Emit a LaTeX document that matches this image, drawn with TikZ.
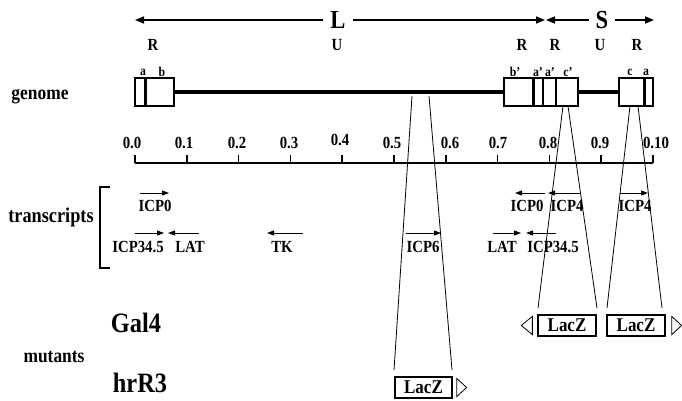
\documentclass[tikz,border=0pt]{standalone}
\usepackage{fontspec}
\setmainfont{Liberation Serif}[FakeStretch=0.87]
\usetikzlibrary{arrows.meta}
\newcommand\fsz[1]{\fontsize{#1}{#1}\selectfont\bfseries}
\begin{document}
\begin{tikzpicture}[x=1pt,y=-1pt,
  big/.style={font=\fsz{26}, inner sep=7pt},
  ru/.style={font=\fsz{17}, inner sep=0pt},
  small/.style={font=\fsz{13.5}, inner sep=0pt},
  num/.style={font=\fsz{17}, inner sep=0pt},
  tr/.style={font=\fsz{17}, inner sep=0pt},
  side/.style={font=\fsz{20}, inner sep=0pt},
  mut/.style={font=\fsz{28}, inner sep=0pt},
  toparrow/.style={line width=1.6pt, -{Triangle[length=9pt,width=7pt]}},
  tarrow/.style={line width=1pt, -{Triangle[length=7pt,width=5pt]}},
  gbox/.style={draw, line width=1.5pt, minimum height=28pt, inner sep=0pt},
  gline/.style={line width=3.5pt},
  bar/.style={line width=3pt},
  thin/.style={line width=1.2pt},
  funnel/.style={line width=0.8pt},
  lacz/.style={draw, line width=1.3pt, minimum width=58pt, minimum height=21pt, inner sep=0pt, font=\fsz{19.5}},
  tri/.style={draw, line width=0.8pt, line join=miter},
  axis/.style={line width=1.5pt},
  bracket/.style={line width=1.5pt}
]
\useasboundingbox (0,0) rectangle (682,401);

% --- top L / S arrows
\node[big] (L) at (338,20) {L};
\coordinate (Lleft) at (135,20);
\coordinate (Lright) at (545,20);
\draw[toparrow] (L) -- (Lleft);
\draw[toparrow] (L) -- (Lright);
\node[big] (S) at (602,20) {S};
\coordinate (Sleft) at (546,20);
\coordinate (Sright) at (654,20);
\draw[toparrow] (S) -- (Sleft);
\draw[toparrow] (S) -- (Sright);

\node[ru] (r1) at (153,45) {R};
\node[ru] (u1) at (337,45) {U};
\node[ru] (r2) at (522,45) {R};
\node[ru] (r3) at (555,45) {R};
\node[ru] (u2) at (600,45) {U};
\node[ru] (r4) at (637,45) {R};

% --- genome
\node[side] (genome) at (40,97) {genome};
\node[gbox, minimum width=39pt] (boxL) at (154.5,92) {};
\node[gbox, minimum width=74pt] (boxR) at (541,92) {};
\node[gbox, minimum width=34pt] (boxE) at (636,92) {};
\draw[gline] (boxL.east) -- (boxR.west);
\draw[gline] (boxR.east) -- (boxE.west);
\draw[bar] (145,78) -- (145,106);
\draw[bar] (533,78) -- (533,106);
\draw[thin] (543,78) -- (543,106);
\draw[thin] (556,78) -- (556,106);
\draw[bar] (644,78) -- (644,106);
\node[small] (la) at (143,72) {a};
\node[small] (lb) at (162,72) {b};
\node[small] (rb) at (515,72) {b'};
\node[small] (ra1) at (538,72) {a'};
\node[small] (ra2) at (550,72) {a'};
\node[small] (rc) at (568,72) {c'};
\node[small] (ec) at (630,72) {c};
\node[small] (ea) at (646,72) {a};

% --- scale
\coordinate (ax0) at (135,163);
\coordinate (ax1) at (653,163);
\draw[axis] (ax0) -- (ax1);
\foreach \i in {0,...,10}{
  \pgfmathsetmacro\xx{135+51.8*\i}
  \draw[axis] (\xx,155) -- (\xx,163);
}
\node[num] (s0) at (132,143) {0.0};
\node[num] (s1) at (184,143) {0.1};
\node[num] (s2) at (237,143) {0.2};
\node[num] (s3) at (289,143) {0.3};
\node[num] (s4) at (340,140) {0.4};
\node[num] (s5) at (392,143) {0.5};
\node[num] (s6) at (450,143) {0.6};
\node[num] (s7) at (498,143) {0.7};
\node[num] (s8) at (548,143) {0.8};
\node[num] (s9) at (600,143) {0.9};
\node[num] (s10) at (656,143) {0.10};

% --- transcripts
\node[side, font=\fsz{21}] (transcripts) at (51,217) {transcripts};
\coordinate (bt) at (110,187);
\coordinate (bb) at (110,268);
\draw[bracket] (bt) -- (100,187) -- (100,268) -- (bb);

\coordinate (a1s) at (140,193); \coordinate (a1e) at (169,193);
\draw[tarrow] (a1s) -- (a1e);
\node[tr] (t1) at (155,206) {ICP0};
\coordinate (a2s) at (135,233); \coordinate (a2e) at (164,233);
\draw[tarrow] (a2s) -- (a2e);
\node[tr] (t2) at (138,247) {ICP34.5};
\coordinate (a3s) at (199,233); \coordinate (a3e) at (168,233);
\draw[tarrow] (a3s) -- (a3e);
\node[tr] (t3) at (190,247) {LAT};
\coordinate (a4s) at (303,233); \coordinate (a4e) at (267,233);
\draw[tarrow] (a4s) -- (a4e);
\node[tr] (t4) at (282,247) {TK};
\coordinate (a5s) at (406,233); \coordinate (a5e) at (441,233);
\draw[tarrow] (a5s) -- (a5e);
\node[tr] (t5) at (423,247) {ICP6};
\coordinate (a6s) at (545,193); \coordinate (a6e) at (515,193);
\draw[tarrow] (a6s) -- (a6e);
\node[tr] (t6) at (527,206) {ICP0};
\coordinate (a7s) at (580,193); \coordinate (a7e) at (548,193);
\draw[tarrow] (a7s) -- (a7e);
\node[tr] (t7) at (567,206) {ICP4};
\coordinate (a8s) at (620,193); \coordinate (a8e) at (648,193);
\draw[tarrow] (a8s) -- (a8e);
\node[tr] (t8) at (635,206) {ICP4};
\coordinate (a9s) at (493,233); \coordinate (a9e) at (521,233);
\draw[tarrow] (a9s) -- (a9e);
\node[tr] (t9) at (502,247) {LAT};
\coordinate (a10s) at (556,233); \coordinate (a10e) at (526,233);
\draw[tarrow] (a10s) -- (a10e);
\node[tr] (t10) at (553,247) {ICP34.5};

% --- mutants
\node[mut] (gal4) at (136,323) {Gal4};
\node[side] (mutants) at (54,357) {mutants};
\node[mut] (hrr3) at (140,383) {hrR3};

\node[lacz] (g1) at (567,325.5) {LacZ};
\node[lacz] (g2) at (636,325.5) {LacZ};
\node[lacz, minimum width=57pt] (h1) at (423.5,387.5) {LacZ};

\draw[tri] ([xshift=-5pt,yshift=-2pt]g1.north west) -- ([xshift=-16pt]g1.west) -- ([xshift=-5pt,yshift=2pt]g1.south west) -- cycle;
\draw[tri] ([xshift=6pt,yshift=-2pt]g2.north east) -- ([xshift=16pt]g2.east) -- ([xshift=6pt,yshift=2pt]g2.south east) -- cycle;
\draw[tri] ([xshift=4pt,yshift=-2pt]h1.north east) -- ([xshift=14pt]h1.east) -- ([xshift=4pt,yshift=2pt]h1.south east) -- cycle;

% --- funnels
\coordinate (f1a) at (412,96); \coordinate (f1b) at (394,370);
\coordinate (f1c) at (429,96); \coordinate (f1d) at (452,370);
\draw[funnel] (f1a) -- (f1b);
\draw[funnel] (f1c) -- (f1d);
\coordinate (f2a) at (563,106); \coordinate (f2b) at (538,308);
\coordinate (f2c) at (568,106); \coordinate (f2d) at (597,308);
\draw[funnel] (f2a) -- (f2b);
\draw[funnel] (f2c) -- (f2d);
\coordinate (f3a) at (630,106); \coordinate (f3b) at (607,308);
\coordinate (f3c) at (638,106); \coordinate (f3d) at (662,308);
\draw[funnel] (f3a) -- (f3b);
\draw[funnel] (f3c) -- (f3d);
\end{tikzpicture}
\end{document}
